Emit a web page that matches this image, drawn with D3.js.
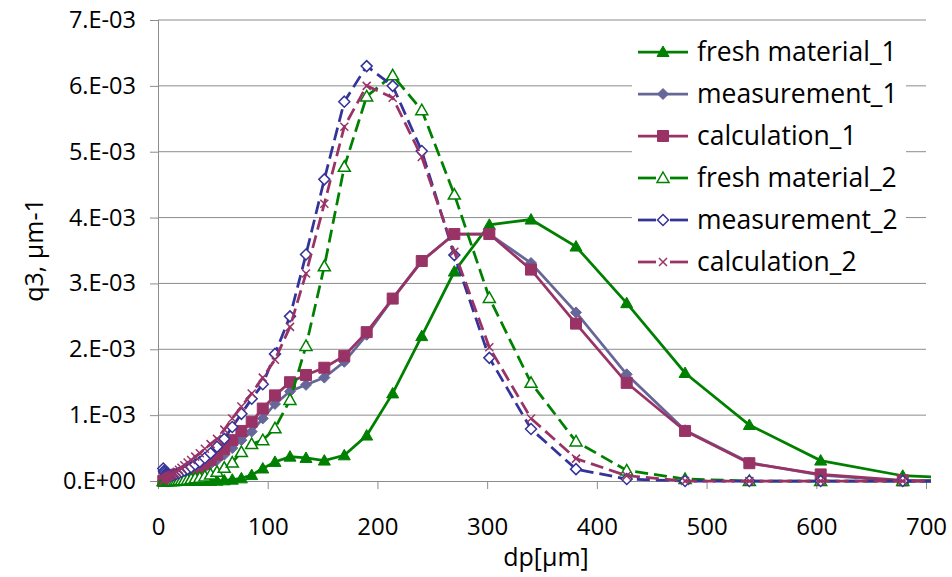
<!DOCTYPE html>
<html>
<head>
<meta charset="utf-8">
<script src="https://cdn.jsdelivr.net/npm/d3@7"></script>
<style>
  body { margin: 0; background: #fff; }
  svg text { font-family: "Open Sans", "Noto Sans", sans-serif; fill: #000; }
</style>
</head>
<body>
<svg id="chart" width="952" height="577"></svg>
<script>
// particle size dp [µm], shared by all series
const dp = [4.8, 5.4, 6.0, 6.8, 7.6, 8.5, 9.6, 10.7, 12.0, 13.5, 15.2, 17.0, 19.1, 21.4, 24.0,
  27.0, 30.2, 33.9, 38.1, 42.7, 47.9, 53.8, 60.4, 67.7, 76.0, 85.4, 95.5, 106.6, 120.3, 134.9,
  151.6, 169.8, 190.2, 213.9, 240.4, 270.1, 302.0, 340.0, 381.0, 427.2, 480.4, 539.0, 604.0, 678.8, 762.0];

// q3 values in units of 1E-03 µm-1
const fresh1 = [0, 0, 0, 0, 0, 0, 0, 0, 0, 0, 0, 0, 0, 0, 0,
  0, 0, 0, 0, 0, 0, 0.005, 0.01, 0.02, 0.04, 0.09, 0.19, 0.29, 0.37, 0.35,
  0.31, 0.39, 0.69, 1.33, 2.2, 3.18, 3.89, 3.97, 3.56, 2.7, 1.64, 0.85, 0.31, 0.08, 0.02];
const meas1 = [0, 0, 0.005, 0.01, 0.01, 0.015, 0.02, 0.02, 0.025, 0.03, 0.035, 0.04, 0.05, 0.06, 0.07,
  0.085, 0.1, 0.13, 0.17, 0.21, 0.26, 0.32, 0.4, 0.5, 0.62, 0.75, 0.95, 1.17, 1.36, 1.46,
  1.57, 1.81, 2.22, 2.77, 3.34, 3.75, 3.75, 3.31, 2.56, 1.62, 0.77, 0.28, 0.09, 0, 0];
const calc1 = [0, 0, 0.005, 0.01, 0.015, 0.02, 0.025, 0.03, 0.035, 0.04, 0.05, 0.06, 0.07, 0.08, 0.1,
  0.12, 0.14, 0.17, 0.21, 0.26, 0.32, 0.4, 0.49, 0.62, 0.76, 0.9, 1.1, 1.3, 1.5, 1.61,
  1.72, 1.9, 2.26, 2.77, 3.34, 3.75, 3.75, 3.21, 2.39, 1.49, 0.76, 0.27, 0.1, 0.01, 0];
const fresh2 = [0, 0, 0, 0, 0, 0, 0, 0, 0, 0, 0, 0.005, 0.01, 0.01, 0.015,
  0.02, 0.03, 0.04, 0.05, 0.07, 0.1, 0.14, 0.2, 0.28, 0.44, 0.56, 0.62, 0.8, 1.23, 2.05,
  3.26, 4.77, 5.84, 6.16, 5.63, 4.35, 2.78, 1.49, 0.6, 0.16, 0.03, 0, 0, 0, 0];
const meas2 = [0.19, 0.15, 0.13, 0.11, 0.1, 0.09, 0.09, 0.09, 0.09, 0.09, 0.1, 0.11, 0.12, 0.14, 0.16,
  0.18, 0.21, 0.25, 0.29, 0.35, 0.42, 0.52, 0.64, 0.82, 1.02, 1.25, 1.47, 1.93, 2.5, 3.44,
  4.58, 5.76, 6.3, 6.0, 5.01, 3.43, 1.87, 0.79, 0.18, 0.03, 0, 0, 0, 0, 0];
const calc2 = [0, 0.02, 0.03, 0.04, 0.05, 0.06, 0.07, 0.08, 0.09, 0.1, 0.12, 0.14, 0.17, 0.2, 0.24,
  0.28, 0.32, 0.37, 0.42, 0.49, 0.56, 0.64, 0.78, 0.95, 1.13, 1.33, 1.57, 1.84, 2.34, 3.15,
  4.21, 5.38, 6.0, 5.82, 4.92, 3.48, 2.03, 0.95, 0.34, 0.08, 0, 0, 0, 0, 0];

const xTicks = [0, 100, 200, 300, 400, 500, 600, 700];
const yTicks = [0, 1, 2, 3, 4, 5, 6, 7];
const yTickLabels = ['0.E+00', '1.E-03', '2.E-03', '3.E-03', '4.E-03', '5.E-03', '6.E-03', '7.E-03'];

const seriesNames = ['fresh material_1', 'measurement_1', 'calculation_1',
  'fresh material_2', 'measurement_2', 'calculation_2'];
const seriesValues = [fresh1, meas1, calc1, fresh2, meas2, calc2];

const styles = [
  { color: '#008000', dash: null, marker: 'triangle', filled: true },
  { color: '#666699', dash: null, marker: 'diamond', filled: true },
  { color: '#993366', dash: null, marker: 'square', filled: true },
  { color: '#008000', dash: '13,6', marker: 'triangle', filled: false },
  { color: '#333399', dash: '13,6', marker: 'diamond', filled: false },
  { color: '#993366', dash: '13,6', marker: 'cross', filled: false }
];

const svg = d3.select('#chart');
const plotLeft = 158, plotRight = 926, plotTop = 20, plotBottom = 481;

const x = d3.scaleLinear().domain([0, 700]).range([plotLeft, plotRight]);
const y = d3.scaleLinear().domain([0, 7]).range([plotBottom, plotTop]);

// gridlines
svg.append('g')
  .selectAll('line')
  .data(yTicks.filter(d => d > 0))
  .enter().append('line')
  .attr('x1', plotLeft).attr('x2', plotRight)
  .attr('y1', d => y(d)).attr('y2', d => y(d))
  .attr('stroke', '#8c8c8c').attr('stroke-width', 1);

// axes
const yAxis = d3.axisLeft(y).tickValues(yTicks).tickSize(8).tickPadding(14)
  .tickFormat((d, i) => yTickLabels[i]);
const gy = svg.append('g').attr('transform', `translate(${plotLeft},0)`).call(yAxis);

const xAxis = d3.axisBottom(x).tickValues(xTicks).tickSize(8).tickPadding(29);
const gx = svg.append('g').attr('transform', `translate(0,${plotBottom})`).call(xAxis);

[gx, gy].forEach(g => {
  g.select('.domain').attr('stroke', '#8c8c8c').attr('stroke-width', 1);
  g.selectAll('.tick line').attr('stroke', '#8c8c8c');
  g.selectAll('.tick text').attr('font-size', 24).attr('font-family', '"Open Sans", sans-serif').attr('fill', '#000');
});
gy.selectAll('.tick text').attr('font-size', 23.5);
gx.select('.domain').attr('d', `M${plotLeft},0.5H${plotRight}`);
gy.select('.domain').attr('d', `M0.5,${plotBottom}V${plotTop}`);

// axis titles
svg.append('text')
  .attr('x', 546).attr('y', 566)
  .attr('text-anchor', 'middle').attr('font-size', 25)
  .text('dp[µm]');
svg.append('text')
  .attr('transform', `translate(43,250) rotate(-90)`)
  .attr('text-anchor', 'middle').attr('font-size', 25)
  .text('q3, µm-1');

svg.append('clipPath').attr('id', 'plotclip')
  .append('rect').attr('x', plotLeft).attr('y', 0).attr('width', 931 - plotLeft).attr('height', 577);

function markerPath(type) {
  if (type === 'triangle') return 'M0,-6L6,4.5L-6,4.5Z';
  if (type === 'diamond') return 'M0,-5.5L5.5,0L0,5.5L-5.5,0Z';
  if (type === 'square') return 'M-5.5,-5.5H5.5V5.5H-5.5Z';
  return 'M-4,-4L4,4M-4,4L4,-4';
}

function drawMarker(g, s, cx, cy) {
  const p = g.append('path')
    .attr('d', markerPath(s.marker))
    .attr('transform', `translate(${cx},${cy})`);
  if (s.marker === 'cross') {
    p.attr('fill', 'none').attr('stroke', s.color).attr('stroke-width', 1.5);
  } else if (s.filled) {
    p.attr('fill', s.color).attr('stroke', s.color).attr('stroke-width', 1);
  } else {
    p.attr('fill', '#fff').attr('stroke', s.color).attr('stroke-width', 1.5);
  }
}

const line = d3.line().x(d => x(d[0])).y(d => y(d[1]));

seriesValues.forEach((vals, i) => {
  const s = styles[i];
  const pts = dp.map((d, j) => [d, vals[j]]);
  const g = svg.append('g');
  g.append('path')
    .datum(pts)
    .attr('d', line)
    .attr('fill', 'none')
    .attr('stroke', s.color)
    .attr('stroke-width', 2.75)
    .attr('stroke-dasharray', s.dash)
    .attr('clip-path', 'url(#plotclip)');
  pts.filter(p => p[0] <= 700).forEach(p => drawMarker(g, s, x(p[0]), y(p[1])));
});

// legend
const legend = svg.append('g');
legend.append('rect')
  .attr('x', 632).attr('y', 28).attr('width', 274).attr('height', 252)
  .attr('fill', '#fff');
seriesNames.forEach((name, i) => {
  const s = styles[i];
  const cy = 52 + i * 42;
  const row = legend.append('g');
  if (s.dash) {
    row.append('line').attr('x1', 638).attr('x2', 656).attr('y1', cy).attr('y2', cy)
      .attr('stroke', s.color).attr('stroke-width', 2.75);
    row.append('line').attr('x1', 670).attr('x2', 688).attr('y1', cy).attr('y2', cy)
      .attr('stroke', s.color).attr('stroke-width', 2.75);
  } else {
    row.append('line').attr('x1', 638).attr('x2', 688).attr('y1', cy).attr('y2', cy)
      .attr('stroke', s.color).attr('stroke-width', 2.75);
  }
  drawMarker(row, s, 663, cy);
  row.append('text')
    .attr('x', 697).attr('y', cy + 9)
    .attr('font-size', 26.5)
    .text(name);
});
</script>
</body>
</html>
